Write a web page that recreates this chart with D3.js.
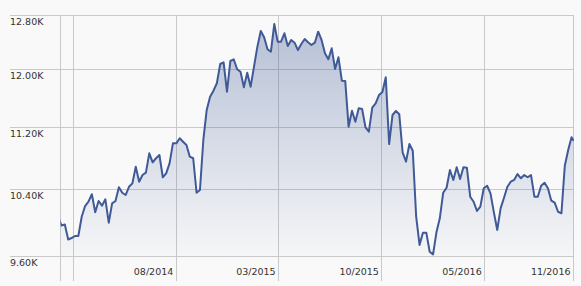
<!DOCTYPE html>
<html>
<head>
<meta charset="utf-8">
<script src="https://cdn.jsdelivr.net/npm/d3@7"></script>
<style>
    html, body { margin: 0; padding: 0; background: #f9f9f9; }
    svg { display: block; }
    .tick-label { font-family: "DejaVu Sans", Verdana, sans-serif; font-size: 9.5px; fill: #333; }
</style>
</head>
<body>
<svg id="chart" width="581" height="286"></svg>
<script>
// weekly closes, first week 2013-11-29, plus a last reading on 2016-11-01
const firstWeek = '2013-11-29';
const lastDay = '2016-11-01';
const weeklyValues = [
    10070, 9956, 9968, 9791, 9808, 9832, 9832, 10061, 10190, 10243,
    10334, 10114, 10251, 10194, 10272, 9989, 10223, 10251, 10420, 10353,
    10325, 10427, 10470, 10680, 10490, 10574, 10604, 10852, 10736, 10788,
    10830, 10546, 10596, 10723, 10982, 10982, 11048, 11003, 10960, 10808,
    10788, 10353, 10387, 11026, 11428, 11611, 11694, 11798, 12073, 12097,
    11680, 12116, 12141, 11997, 11962, 11742, 11948, 11750, 12034, 12325,
    12558, 12464, 12287, 12251, 12663, 12399, 12399, 12524, 12335, 12424,
    12384, 12276, 12365, 12439, 12390, 12350, 12384, 12548, 12424, 12228,
    12141, 12301, 12001, 12170, 11835, 11831, 11202, 11418, 11269, 11451,
    11442, 11194, 11136, 11459, 11519, 11634, 11676, 11883, 10973, 11360,
    11414, 11369, 10860, 10744, 10973, 10886, 10061, 9727, 9871, 9871,
    9649, 9619, 9875, 10042, 10353, 10415, 10638, 10512, 10672, 10524,
    10672, 10667, 10304, 10243, 10130, 10182, 10408, 10440, 10346, 10114,
    9903, 10162, 10292, 10427, 10490, 10512, 10587, 10533, 10574, 10546,
    10574, 10304, 10304, 10440, 10478, 10408, 10255, 10231, 10121, 10102,
    10692, 10895, 11061,
];
const lastValue = 11017;

const domainDates = ['2013-12-03', '2016-11-01'];
const yTicks = [9600, 10400, 11200, 12000, 12800];
const xTicks = ['2014-01-01', '2014-08-01', '2015-03-01', '2015-10-01', '2016-05-01', '2016-11-01'];
const xTickLabels = ['', '08/2014', '03/2015', '10/2015', '05/2016', '11/2016'];

const parse = d3.utcParse('%Y-%m-%d');

const data = weeklyValues.map((v, i) => ({ date: d3.utcWeek.offset(parse(firstWeek), i), value: v }));
data.push({ date: parse(lastDay), value: lastValue });

const svg = d3.select('#chart');
const plotLeft = 60;
const plotRight = 573.5;
const plotTop = 15;
const plotBottom = 256;
const labelLeft = 10;
const tickBottom = 281;

const x = d3.scaleUtc()
    .domain(domainDates.map(parse))
    .range([plotLeft, plotRight]);

const y = d3.scaleLog()
    .domain([yTicks[0], yTicks[yTicks.length - 1]])
    .range([plotBottom, plotTop]);

const gridColor = '#c9c9c9';
const lineColor = '#3f5a96';

// horizontal grid lines run under the labels too
svg.append('g')
    .selectAll('line')
    .data(yTicks)
    .join('line')
    .attr('x1', labelLeft)
    .attr('x2', plotRight)
    .attr('y1', (d) => Math.round(y(d)) + 0.5)
    .attr('y2', (d) => Math.round(y(d)) + 0.5)
    .attr('stroke', gridColor);

svg.append('g')
    .selectAll('text')
    .data(yTicks)
    .join('text')
    .attr('class', 'tick-label')
    .attr('x', labelLeft)
    .attr('y', (d) => Math.round(y(d)) + 9.5)
    .text((d) => `${(d / 1000).toFixed(2)}K`);

// vertical grid lines, left edge and right border
const vLines = [domainDates[0]].concat(xTicks).map(parse);
svg.append('g')
    .selectAll('line')
    .data(vLines)
    .join('line')
    .attr('x1', (d) => Math.floor(x(d)) + 0.5)
    .attr('x2', (d) => Math.floor(x(d)) + 0.5)
    .attr('y1', plotTop)
    .attr('y2', tickBottom)
    .attr('stroke', gridColor);

svg.append('g')
    .selectAll('text')
    .data(xTicks)
    .join('text')
    .attr('class', 'tick-label')
    .attr('text-anchor', 'end')
    .attr('x', (d) => x(parse(d)) - 3)
    .attr('y', 275)
    .text((d, i) => xTickLabels[i]);

const defs = svg.append('defs');

defs.append('clipPath')
    .attr('id', 'plot-clip')
    .append('rect')
    .attr('x', plotLeft + 0.5)
    .attr('y', plotTop)
    .attr('width', plotRight - plotLeft)
    .attr('height', plotBottom - plotTop);

const grad = defs.append('linearGradient')
    .attr('id', 'area-fill')
    .attr('gradientUnits', 'userSpaceOnUse')
    .attr('x1', 0)
    .attr('y1', y(d3.max(weeklyValues)))
    .attr('x2', 0)
    .attr('y2', plotBottom);

grad.append('stop').attr('offset', 0).attr('stop-color', lineColor).attr('stop-opacity', 0.36);
grad.append('stop').attr('offset', 1).attr('stop-color', lineColor).attr('stop-opacity', 0.02);

const plot = svg.append('g').attr('clip-path', 'url(#plot-clip)');

plot.append('path')
    .datum(data)
    .attr('fill', 'url(#area-fill)')
    .attr('d', d3.area()
        .x((d) => x(d.date))
        .y0(plotBottom)
        .y1((d) => y(d.value)));

plot.append('path')
    .datum(data)
    .attr('fill', 'none')
    .attr('stroke', lineColor)
    .attr('stroke-width', 2)
    .attr('stroke-linejoin', 'round')
    .attr('d', d3.line()
        .x((d) => x(d.date))
        .y((d) => y(d.value)));

// top border over the plot
svg.append('line')
    .attr('x1', labelLeft)
    .attr('x2', plotRight)
    .attr('y1', plotTop + 0.5)
    .attr('y2', plotTop + 0.5)
    .attr('stroke', gridColor);
</script>
</body>
</html>
